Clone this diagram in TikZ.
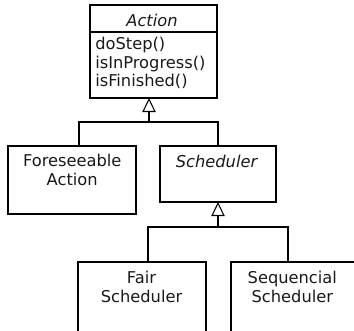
\documentclass[tikz,border=0pt]{standalone}
\usepackage{fontspec}
\setmainfont{DejaVu Sans}
\usetikzlibrary{arrows.meta,fit}
\begin{document}
\begin{tikzpicture}[x=0.75pt,y=-0.75pt,
  box/.style={draw,line width=0.8pt,inner sep=0pt,outer sep=0pt},
  lbl/.style={inner sep=0pt,font=\fontsize{12.2}{13.8}\selectfont,align=center,text=black!90},
  wire/.style={line width=0.8pt},
  inherit/.style={wire,-{Triangle[open,width=10pt,length=10.5pt,line width=0.8pt]}}]
\useasboundingbox (0,0) rectangle (354,330);
% boxes
\node[box,fit={(90,5) (217,98)}] (action) {};
\draw[wire] (90,32) -- (217,32);
\node[box,fit={(8,146) (136,214)}] (fore) {};
\node[box,fit={(160,146) (276,202)}] (sched) {};
\node[box,fit={(78,262) (206,334)}] (fair) {};
\node[box,fit={(231,262) (356,334)}] (seq) {};
% texts
\node[lbl,font=\fontsize{12.2}{13.8}\selectfont\itshape] (tAction) at (152,20.7) {Action};
\node[lbl,align=left,anchor=west] (tMeth) at (95,63) {doStep()\\isInProgress()\\isFinished()};
\node[lbl] (tFore) at (72.2,170) {Foreseeable\\Action};
\node[lbl,font=\fontsize{12.2}{13.8}\selectfont\itshape] (tSched) at (216.5,161) {Scheduler};
\node[lbl] (tFair) at (141.5,287) {Fair\\Scheduler};
\node[lbl] (tSeq) at (292.3,287) {Sequencial\\Scheduler};
% connectors
\coordinate (j1) at (149,122);
\coordinate (j2) at (218,227);
\draw[inherit] (j1) -- (j1 |- action.south);
\draw[wire] (fore.north -| 79,0) |- (j1) -| (sched.north);
\draw[inherit] (j2) -- (j2 |- sched.south);
\draw[wire] (fair.north -| 148,0) |- (j2) -| (seq.north -| 288,0);
\end{tikzpicture}
\end{document}
